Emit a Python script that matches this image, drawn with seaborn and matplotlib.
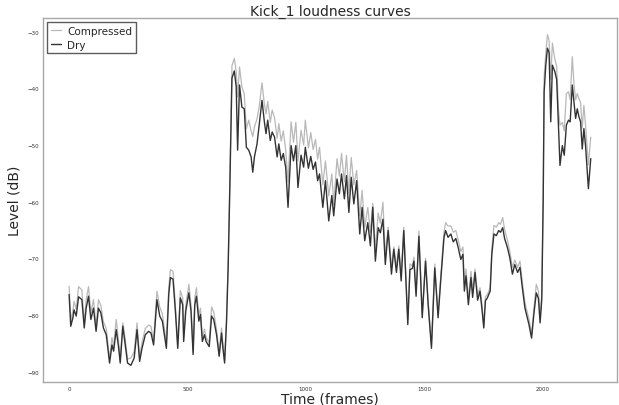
import numpy as np
import pandas as pd
import matplotlib
matplotlib.use("Agg")
import matplotlib.pyplot as plt
import seaborn as sns

# ---- data ----
frames_a = [0, 7, 16, 21, 30, 40, 54, 64, 72, 82, 92, 103, 114, 124, 134, 145, 157, 171, 181, 188,
            199, 209, 216, 227, 237, 247, 261, 275, 287, 298, 308, 322, 336, 346, 357, 371, 383, 394,
            411, 421, 428, 439, 449, 459, 470, 480, 484, 493, 506, 515, 524, 531, 538, 548, 555, 563,
            572, 579, 592, 602, 611, 623, 634, 644, 650, 657, 665, 672, 678]
dry_a = [-76.4, -82.0, -80.5, -79.1, -80.2, -76.8, -77.3, -82.3, -78.8, -76.7, -80.8, -78.8, -82.9,
         -78.8, -79.6, -82.3, -83.5, -88.5, -85.3, -86.4, -82.6, -85.7, -88.5, -82.0, -85.3, -88.5,
         -88.9, -87.6, -82.6, -88.2, -85.9, -83.5, -82.9, -83.2, -85.3, -77.3, -80.2, -81.1, -85.9,
         -76.4, -73.4, -73.7, -79.3, -85.9, -77.0, -78.2, -84.7, -79.3, -76.1, -79.3, -87.0, -78.2,
         -76.7, -81.1, -79.9, -84.7, -83.5, -84.7, -85.6, -80.2, -80.8, -83.5, -87.3, -83.2, -85.9,
         -88.5, -81.4, -71.7, -59.8]
comp_a = [-74.9, -81.0, -79.3, -77.6, -79.0, -75.0, -75.6, -81.5, -77.4, -75.0, -79.6, -77.3, -82.0,
          -77.3, -78.3, -81.2, -82.4, -87.8, -84.0, -85.6, -80.8, -84.6, -87.8, -81.4, -84.2, -87.8,
          -87.6, -86.5, -81.4, -87.6, -84.8, -82.4, -81.8, -82.0, -84.6, -75.8, -78.6, -79.8, -85.0,
          -75.2, -72.0, -72.3, -78.3, -85.3, -75.7, -77.0, -84.0, -78.3, -74.6, -78.2, -86.4, -77.0,
          -75.2, -80.0, -78.8, -84.0, -82.5, -84.0, -84.9, -78.6, -79.5, -82.6, -86.7, -82.3, -85.2,
          -88.0, -80.5, -70.5, -58.5]

frames_b = [688, 698, 706, 712, 720, 730, 740, 749, 759, 769, 776, 783, 794, 804, 815, 825, 832, 839,
            850, 858, 868, 879, 886, 896, 905, 915, 925, 938, 948, 958, 967, 980, 991, 998, 1011,
            1021, 1031, 1041, 1050, 1058, 1072, 1083, 1097]
dry_b = [-38.2, -36.9, -39.7, -50.9, -39.4, -43.3, -43.6, -50.4, -50.9, -52.1, -54.8, -52.1, -49.8,
         -46.2, -42.1, -45.9, -48.0, -45.6, -49.2, -47.7, -48.6, -52.1, -49.8, -52.7, -51.5, -53.9,
         -61.0, -50.1, -52.8, -50.1, -57.5, -51.8, -53.9, -50.4, -54.1, -52.0, -54.3, -53.0, -56.3,
         -55.1, -61.0, -56.3, -63.4]
comp_b = [-36.0, -34.7, -37.0, -41.5, -36.2, -39.7, -41.0, -47.1, -45.6, -47.5, -48.5, -46.8, -45.4,
          -43.0, -39.0, -42.8, -44.5, -42.3, -46.0, -43.8, -45.2, -48.8, -46.2, -49.3, -47.5, -50.8,
          -56.5, -45.9, -49.5, -46.0, -52.8, -47.4, -50.0, -45.6, -50.5, -47.8, -50.8, -49.0, -52.5,
          -50.4, -57.0, -52.8, -59.0]

frames_c = [1110, 1118, 1132, 1142, 1151, 1163, 1172, 1182, 1192, 1203, 1215, 1228, 1238, 1249,
            1262, 1273, 1283, 1294, 1306, 1315, 1326, 1336, 1348, 1362, 1372, 1383, 1393, 1403,
            1414, 1431, 1440, 1450, 1457, 1466, 1478, 1492, 1506, 1517, 1531, 1545, 1559, 1570, 1584]
dry_c = [-58.9, -62.5, -56.0, -58.6, -55.1, -59.5, -55.4, -61.9, -55.7, -60.4, -56.3, -65.7, -61.0,
         -66.9, -63.7, -67.8, -61.0, -70.5, -64.6, -65.5, -63.1, -71.1, -65.1, -72.8, -68.4, -72.5,
         -68.4, -74.0, -65.1, -81.7, -72.0, -71.8, -70.5, -76.7, -66.1, -80.5, -70.5, -78.2, -85.9,
         -71.7, -80.5, -74.0, -66.3]
comp_c = [-55.1, -60.5, -52.4, -55.5, -51.5, -56.5, -51.8, -58.5, -52.2, -57.0, -54.5, -62.5, -58.0,
          -64.5, -61.0, -65.5, -60.3, -68.5, -62.0, -63.8, -60.1, -69.5, -64.5, -71.5, -68.0, -71.5,
          -67.8, -73.0, -64.5, -80.8, -71.0, -71.3, -69.8, -76.0, -65.2, -79.8, -70.0, -77.5, -85.3,
          -71.0, -80.0, -73.3, -65.3]

frames_d = [1591, 1601, 1613, 1623, 1634, 1644, 1655, 1664, 1670, 1677, 1687, 1698, 1705, 1715,
            1726, 1736, 1744, 1752, 1759, 1767, 1779, 1786, 1795, 1805, 1815, 1823, 1832, 1840,
            1852, 1862, 1873, 1883, 1895, 1905, 1915, 1926, 1936, 1943, 1954, 1964, 1974, 1983,
            1990, 1997]
dry_d = [-65.1, -66.3, -65.7, -67.1, -66.5, -68.1, -70.2, -69.3, -75.8, -73.1, -78.2, -73.4, -76.9,
         -72.5, -77.4, -75.8, -78.8, -82.3, -77.5, -77.0, -75.8, -69.3, -65.7, -66.0, -65.1, -65.4,
         -64.6, -66.5, -68.1, -69.9, -72.8, -71.1, -72.5, -71.6, -75.2, -78.8, -80.5, -81.7, -84.1,
         -79.7, -76.1, -77.1, -81.4, -77.3]
comp_d = [-63.7, -64.3, -64.3, -65.4, -65.1, -66.8, -68.8, -68.0, -74.5, -71.9, -77.2, -72.3, -75.8,
          -71.9, -76.5, -75.2, -78.0, -81.8, -76.8, -76.4, -75.2, -68.3, -64.2, -64.5, -63.7, -64.0,
          -62.8, -64.9, -66.8, -68.8, -71.6, -70.3, -71.6, -70.5, -74.2, -77.8, -79.6, -80.7, -83.4,
          -78.8, -74.6, -75.8, -80.7, -76.3]

frames_e = [2003, 2007, 2014, 2021, 2028, 2035, 2042, 2052, 2060, 2067, 2074, 2084, 2092, 2101,
            2110, 2117, 2126, 2133, 2140, 2147, 2154, 2161, 2168, 2175, 2182, 2194, 2204]
dry_e = [-60.1, -40.6, -35.9, -32.9, -33.7, -45.9, -35.9, -37.0, -38.4, -45.9, -53.6, -50.1, -51.8,
         -46.5, -45.6, -45.9, -39.4, -42.4, -45.3, -43.6, -45.0, -45.9, -50.7, -47.1, -50.1, -57.7,
         -52.4]
comp_e = [-58.5, -38.0, -33.8, -30.5, -31.5, -38.4, -32.0, -34.8, -36.1, -43.5, -46.5, -46.0, -47.5,
          -40.9, -40.6, -42.0, -34.4, -39.2, -42.0, -40.9, -41.8, -42.5, -47.0, -43.0, -46.5, -53.5,
          -48.6]

frames = frames_a + frames_b + frames_c + frames_d + frames_e
dry = dry_a + dry_b + dry_c + dry_d + dry_e
compressed = comp_a + comp_b + comp_c + comp_d + comp_e

x_ticks = [0, 500, 1000, 1500, 2000]
y_ticks = [-90, -80, -70, -60, -50, -40, -30]

df = pd.DataFrame({"frame": frames, "Compressed": compressed, "Dry": dry})

# ---- plot ----
sns.set_style("white")
plt.rcParams["font.family"] = ["DejaVu Sans"]

fig = plt.figure(figsize=(6.19, 4.06), dpi=100)
ax = fig.add_axes([0.0695, 0.057, 0.927, 0.896])

sns.lineplot(data=df, x="frame", y="Compressed", ax=ax, color="#b8b8b8", linewidth=0.9,
             label="Compressed")
sns.lineplot(data=df, x="frame", y="Dry", ax=ax, color="#333333", linewidth=1.0, label="Dry")

ax.set_xticks(x_ticks)
ax.set_yticks(y_ticks)
ax.tick_params(axis="both", labelsize=4, colors="#333333", length=0, pad=3)
for s in ax.spines.values():
    s.set_color("#a8a8a8")
    s.set_linewidth(1.0)

ax.set_title("Kick_1 loudness curves", fontsize=10, pad=2)
ax.set_xlabel("Time (frames)", fontsize=10, labelpad=0)
ax.set_ylabel("Level (dB)", fontsize=10, labelpad=4)

leg = ax.legend(loc="upper left", fontsize=7.5, frameon=True, fancybox=False,
                borderaxespad=0.4, handlelength=1.0, handletextpad=0.6, borderpad=0.35,
                labelspacing=0.35)
leg.get_frame().set_edgecolor("#333333")
leg.get_frame().set_linewidth(1.0)

fig.savefig("out.png", dpi=100)
